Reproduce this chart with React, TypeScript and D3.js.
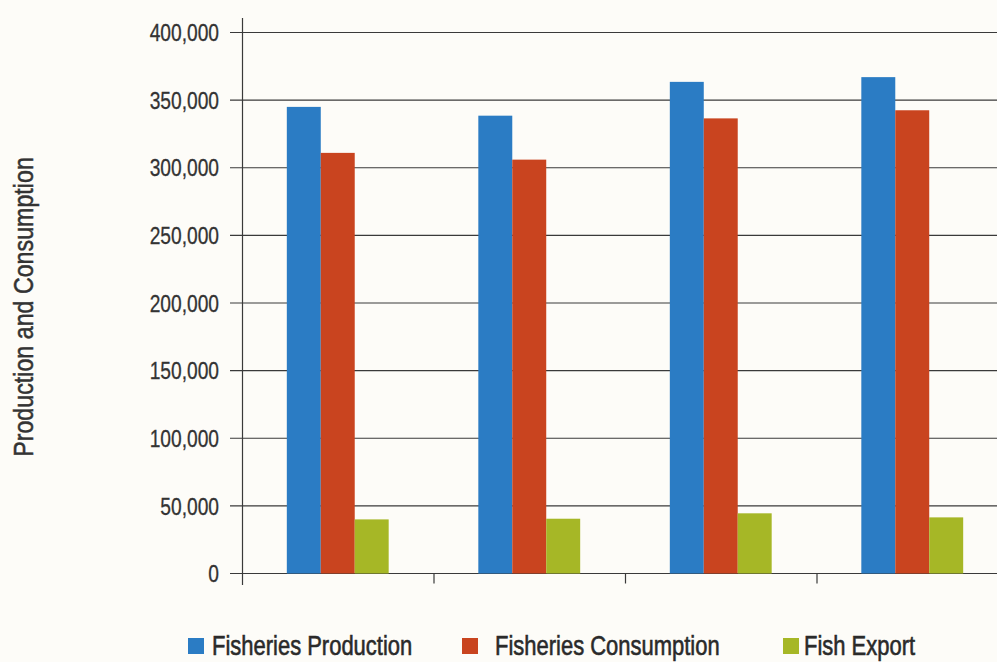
import React from "react";
import * as d3 from "d3";

// Groups along the x axis (unlabelled in the chart)
const categories = ["G1", "G2", "G3", "G4"];
const seriesNames = ["Fisheries Production", "Fisheries Consumption", "Fish Export"];
const production = [345000, 338500, 363500, 367000];
const consumption = [311000, 306000, 336500, 342500];
const fishExport = [40000, 40500, 44500, 41500];
const yTicks = [0, 50000, 100000, 150000, 200000, 250000, 300000, 350000, 400000];
const seriesColors = ["#2b7cc4", "#c9441f", "#a6b726"];

const W = 997;
const H = 662;
const FONT = "'Liberation Sans', Arial, sans-serif";

// Condensed text: a regular sans squeezed horizontally
function NarrowText({
  x,
  y,
  size,
  squeeze,
  anchor = "start",
  rotate = 0,
  fill = "#333",
  weight = 0,
  dy,
  children,
}: {
  x: number;
  y: number;
  size: number;
  squeeze: number;
  anchor?: string;
  rotate?: number;
  fill?: string;
  weight?: number;
  dy?: string;
  children: React.ReactNode;
}) {
  return (
    <g transform={`translate(${x},${y}) rotate(${rotate}) scale(${squeeze},1)`}>
      <text
        x={0}
        y={0}
        dy={dy}
        textAnchor={anchor}
        fontSize={size}
        fill={fill}
        stroke={weight > 0 ? fill : "none"}
        strokeWidth={weight}
      >
        {children}
      </text>
    </g>
  );
}

export default function App() {
  const values = [production, consumption, fishExport];

  const y = d3.scaleLinear().domain([0, 400000]).range([573.5, 32.5]);
  const x = d3.scaleBand<string>().domain(categories).range([242, 1008]).paddingInner(0).paddingOuter(0);
  const xs = d3
    .scaleBand<string>()
    .domain(seriesNames)
    .range([0, x.bandwidth()])
    .paddingInner(0)
    .paddingOuter(1.32);
  const fmt = d3.format(",");

  const legendX = [188, 462, 783];
  const legendTextGap = [24, 33, 21];

  return (
    <svg
      width={W}
      height={H}
      style={{ position: "absolute", left: 0, top: 0, background: "#fdfcf8" }}
      fontFamily={FONT}
    >
      <rect x={0} y={0} width={W} height={H} fill="#fdfcf8" />

      {/* horizontal gridlines with left tick marks */}
      {yTicks.map((t) => (
        <g key={t}>
          <line x1={230} x2={W} y1={y(t)} y2={y(t)} stroke="#3a3a3a" strokeWidth={1.1} />
          <NarrowText x={219} y={y(t)} dy="0.36em" anchor="end" size={24} squeeze={0.8} weight={0.3}>
            {fmt(t)}
          </NarrowText>
        </g>
      ))}

      {/* bars */}
      {categories.map((c, ci) => (
        <g key={c} transform={`translate(${x(c)},0)`}>
          {seriesNames.map((s, si) => (
            <rect
              key={s}
              x={xs(s)}
              width={xs.bandwidth()}
              y={y(values[si][ci])}
              height={y(0) - y(values[si][ci])}
              fill={seriesColors[si]}
            />
          ))}
        </g>
      ))}

      {/* vertical axis */}
      <line x1={242.5} x2={242.5} y1={18} y2={585} stroke="#3a3a3a" strokeWidth={1.2} />

      {/* category boundary ticks */}
      {categories.slice(1).map((c) => (
        <line
          key={c}
          x1={(x(c) as number) + 0.5}
          x2={(x(c) as number) + 0.5}
          y1={y(0)}
          y2={y(0) + 10}
          stroke="#3a3a3a"
          strokeWidth={1.2}
        />
      ))}

      {/* y axis title */}
      <NarrowText x={33} y={307} rotate={-90} anchor="middle" size={28} squeeze={0.83} weight={0.5}>
        Production and Consumption
      </NarrowText>

      {/* legend */}
      {seriesNames.map((s, i) => (
        <g key={s}>
          <rect x={legendX[i]} y={638} width={16} height={16} fill={seriesColors[i]} />
          <NarrowText
            x={legendX[i] + legendTextGap[i]}
            y={655}
            size={28}
            squeeze={0.785}
            fill="#2a2a2a"
            weight={0.6}
          >
            {s}
          </NarrowText>
        </g>
      ))}
    </svg>
  );
}
